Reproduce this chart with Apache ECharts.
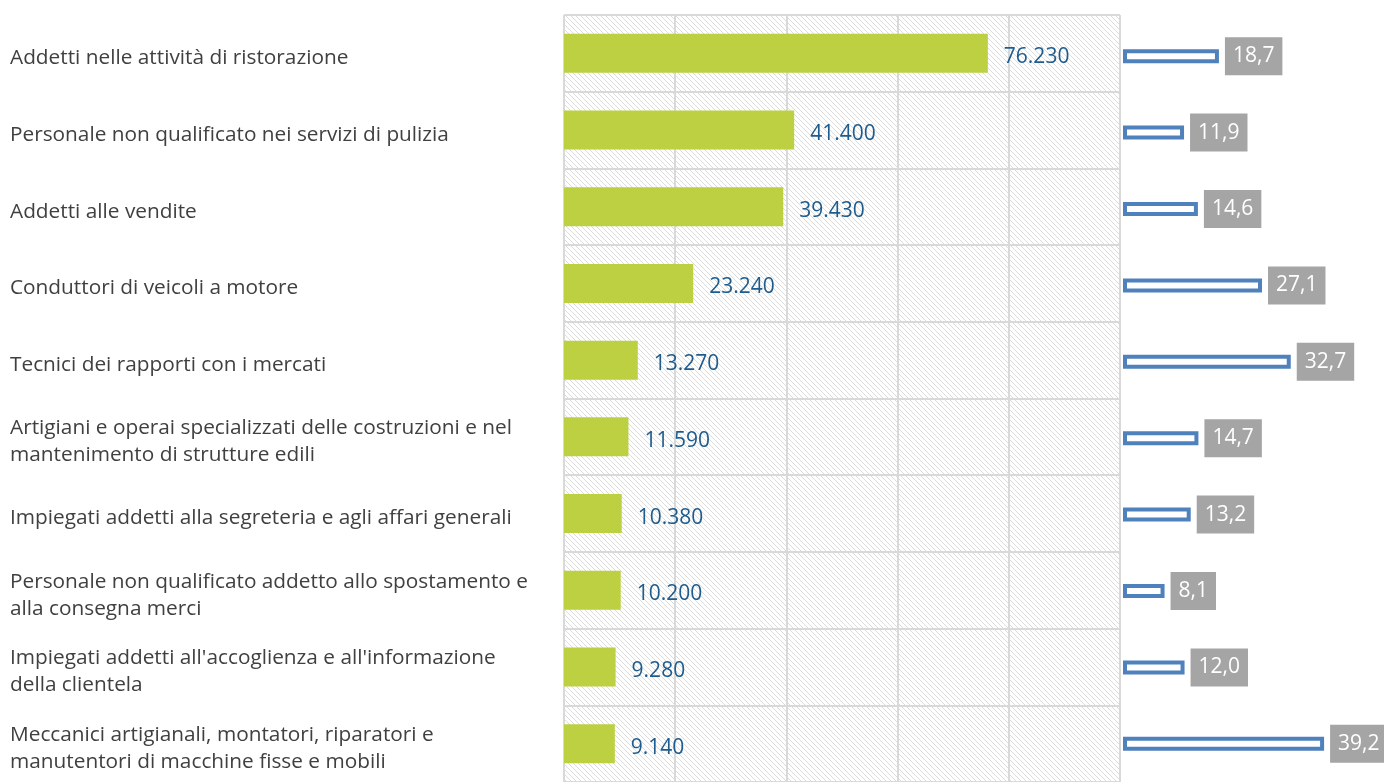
<!DOCTYPE html>
<html>
<head>
<meta charset="utf-8">
<script src="https://cdn.jsdelivr.net/npm/echarts@6/dist/echarts.min.js"></script>
<style>
  html, body { margin: 0; padding: 0; background: #fff; }
  #main { width: 1384px; height: 782px; }
</style>
</head>
<body>
<div id="main"></div>
<script>
// categorie (dall'alto verso il basso)
const categories = [
    'Addetti nelle attività di ristorazione',
    'Personale non qualificato nei servizi di pulizia',
    'Addetti alle vendite',
    'Conduttori di veicoli a motore',
    'Tecnici dei rapporti con i mercati',
    'Artigiani e operai specializzati delle costruzioni e nel\nmantenimento di strutture edili',
    'Impiegati addetti alla segreteria e agli affari generali',
    'Personale non qualificato addetto allo spostamento e\nalla consegna merci',
    "Impiegati addetti all'accoglienza e all'informazione\ndella clientela",
    'Meccanici artigianali, montatori, riparatori e\nmanutentori di macchine fisse e mobili'
];
// entrate previste
const entrate = [76230, 41400, 39430, 23240, 13270, 11590, 10380, 10200, 9280, 9140];
// quota percentuale
const quota = [18.7, 11.9, 14.6, 27.1, 32.7, 14.7, 13.2, 8.1, 12.0, 39.2];

// tratteggio diagonale per lo sfondo
var hatch = document.createElement('canvas');
hatch.width = 5;
hatch.height = 5;
var ctx = hatch.getContext('2d');
ctx.fillStyle = '#ffffff';
ctx.fillRect(0, 0, 5, 5);
ctx.strokeStyle = '#dcdcdc';
ctx.lineWidth = 1;
ctx.beginPath();
ctx.moveTo(-1, -1); ctx.lineTo(6, 6);
ctx.moveTo(-1, 4); ctx.lineTo(1, 6);
ctx.moveTo(4, -1); ctx.lineTo(6, 1);
ctx.stroke();

function fmtMigliaia(v) {
    return String(v).replace(/\B(?=(\d{3})+(?!\d))/g, '.');
}

var chartDom = document.getElementById('main');
var myChart = echarts.init(chartDom);
var option;

option = {
    animation: false,
    textStyle: { fontFamily: 'Open Sans' },
    grid: [
        {
            left: 564, top: 15, width: 556, height: 774,
            show: true,
            backgroundColor: { image: hatch, repeat: 'repeat' },
            borderWidth: 0
        },
        {
            left: 1123, top: 18, width: 256.5, height: 781,
            show: false
        }
    ],
    xAxis: [
        {
            gridIndex: 0,
            type: 'value',
            min: 0,
            max: 100000,
            interval: 20000,
            axisLabel: { show: false },
            axisLine: { show: false },
            axisTick: { show: false },
            splitLine: { show: true, lineStyle: { color: '#d9d9d9', width: 2 } }
        },
        {
            gridIndex: 1,
            type: 'value',
            min: 0,
            max: 50,
            show: false
        }
    ],
    yAxis: [
        {
            gridIndex: 0,
            type: 'category',
            inverse: true,
            data: categories,
            axisLine: { show: false },
            axisTick: { show: false },
            splitLine: { show: true, lineStyle: { color: '#d9d9d9', width: 2 } },
            axisLabel: {
                align: 'left',
                margin: 554,
                formatter: v => v.split('\n').map(s => '{c|' + s + '}').join('\n'),
                rich: {
                    c: {
                        color: '#404040',
                        fontSize: 20.8,
                        lineHeight: 27,
                        padding: [10, 0, 0, 0],
                        fontFamily: 'Open Sans'
                    }
                }
            }
        },
        {
            gridIndex: 1,
            type: 'category',
            inverse: true,
            data: categories,
            show: false
        }
    ],
    series: [
        {
            name: 'Entrate',
            type: 'bar',
            xAxisIndex: 0,
            yAxisIndex: 0,
            data: entrate,
            barWidth: 39,
            itemStyle: { color: '#bcd042' },
            label: {
                show: true,
                position: 'right',
                distance: 16,
                offset: [0, 4],
                color: '#1f5c8e',
                fontSize: 21,
                fontFamily: 'Open Sans',
                formatter: p => fmtMigliaia(p.value)
            }
        },
        {
            name: 'Quota',
            type: 'bar',
            xAxisIndex: 1,
            yAxisIndex: 1,
            data: quota,
            barWidth: 14,
            itemStyle: { color: '#ffffff', borderColor: '#4f81bd', borderWidth: 4 },
            label: {
                show: true,
                position: 'right',
                distance: 6,
                color: '#ffffff',
                backgroundColor: '#a5a5a5',
                padding: [7, 8, 7, 8],
                fontSize: 21,
                lineHeight: 24,
                fontFamily: 'Open Sans',
                formatter: p => p.value.toFixed(1).replace('.', ',')
            }
        }
    ]
};

option && myChart.setOption(option);
</script>
</body>
</html>
